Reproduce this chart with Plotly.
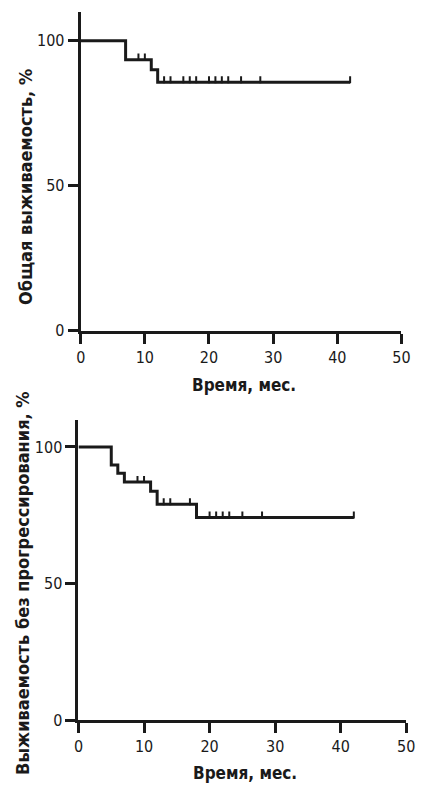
import plotly.graph_objects as go

# ---- data: overall survival (top) ----
os_times = [0, 7, 11, 12, 42]
os_levels = [100, 93.5, 90.0, 85.7, 85.7]
os_cens_t = [9, 10, 13, 14, 16, 17, 18, 20, 21, 22, 23, 25, 28, 42]
os_cens_y = [93.5, 93.5] + [85.7] * 12

# ---- data: progression-free survival (bottom) ----
pfs_times = [0, 5, 6, 7, 11, 12, 18, 42]
pfs_levels = [100, 93.4, 90.4, 87.2, 83.8, 79.0, 74.2, 74.2]
pfs_cens_t = [9, 10, 13, 14, 17, 20, 21, 22, 23, 25, 28, 42]
pfs_cens_y = [87.2, 87.2, 79.0, 79.0, 79.0] + [74.2] * 7

x_ticks = [0, 10, 20, 30, 40, 50]
y_ticks = [0, 50, 100]
x_title = "Время, мес."
y_title_top = "Общая выживаемость, %"
y_title_bot = "Выживаемость без прогрессирования, %"

W, H = 423, 791
FONT = "Liberation Sans Narrow, DejaVu Sans Condensed, Arial Narrow, sans-serif"

def px(x):
    return x / W

def py(y):
    return 1 - y / H

fig = go.Figure()

CENS_OFF = 0.9

for times, levels, ct, cy, xa, ya in [
    (os_times, os_levels, os_cens_t, os_cens_y, "x", "y"),
    (pfs_times, pfs_levels, pfs_cens_t, pfs_cens_y, "x2", "y2"),
]:
    fig.add_trace(go.Scatter(x=times, y=levels, mode="lines",
                             line=dict(color="#1a1a1a", width=3, shape="hv"),
                             xaxis=xa, yaxis=ya, showlegend=False, hoverinfo="skip"))
    fig.add_trace(go.Scatter(x=ct, y=[v + CENS_OFF for v in cy], mode="markers",
                             marker=dict(symbol="line-ns", size=5,
                                         line=dict(color="#1a1a1a", width=2)),
                             xaxis=xa, yaxis=ya, showlegend=False, hoverinfo="skip"))

axis_common = dict(showgrid=False, zeroline=False, showline=True, linecolor="#1a1a1a",
                   linewidth=3, ticks="outside", ticklen=10, tickwidth=3,
                   tickcolor="#1a1a1a", tickfont=dict(family=FONT, size=16, color="#1a1a1a"),
                   fixedrange=True)

fig.update_layout(
    width=W, height=H,
    margin=dict(l=0, r=0, t=0, b=0),
    paper_bgcolor="white", plot_bgcolor="white",
    xaxis=dict(domain=[px(78.3), px(410)], range=[0, 50], tickvals=x_ticks,
               anchor="y", **axis_common),
    yaxis=dict(domain=[py(335), py(12)], range=[0, 110], tickvals=y_ticks,
               anchor="x", **axis_common),
    xaxis2=dict(domain=[px(76), px(415)], range=[0, 50], tickvals=x_ticks,
                anchor="y2", **axis_common),
    yaxis2=dict(domain=[py(729.3), py(425)], range=[0, 110], tickvals=y_ticks,
                anchor="x2", **axis_common),
)

tfont = dict(family=FONT, size=17, color="#1a1a1a")
yfont = dict(family=FONT, size=18, color="#1a1a1a")
ann = [
    dict(text="<b>" + x_title + "</b>", x=px(247), y=py(390), xref="paper", yref="paper",
         showarrow=False, font=tfont, xanchor="center", yanchor="middle"),
    dict(text="<b>" + x_title + "</b>", x=px(248), y=py(783), xref="paper", yref="paper",
         showarrow=False, font=tfont, xanchor="center", yanchor="middle"),
    dict(text="<b>" + y_title_top + "</b>", x=px(21), y=py(189), xref="paper", yref="paper",
         showarrow=False, font=yfont, textangle=-90, xanchor="center", yanchor="middle"),
    dict(text="<b>" + y_title_bot + "</b>", x=px(18), y=py(590), xref="paper", yref="paper",
         showarrow=False, font=yfont, textangle=-90, xanchor="center", yanchor="middle"),
]
fig.update_layout(annotations=ann)

fig.write_html("out.html")
